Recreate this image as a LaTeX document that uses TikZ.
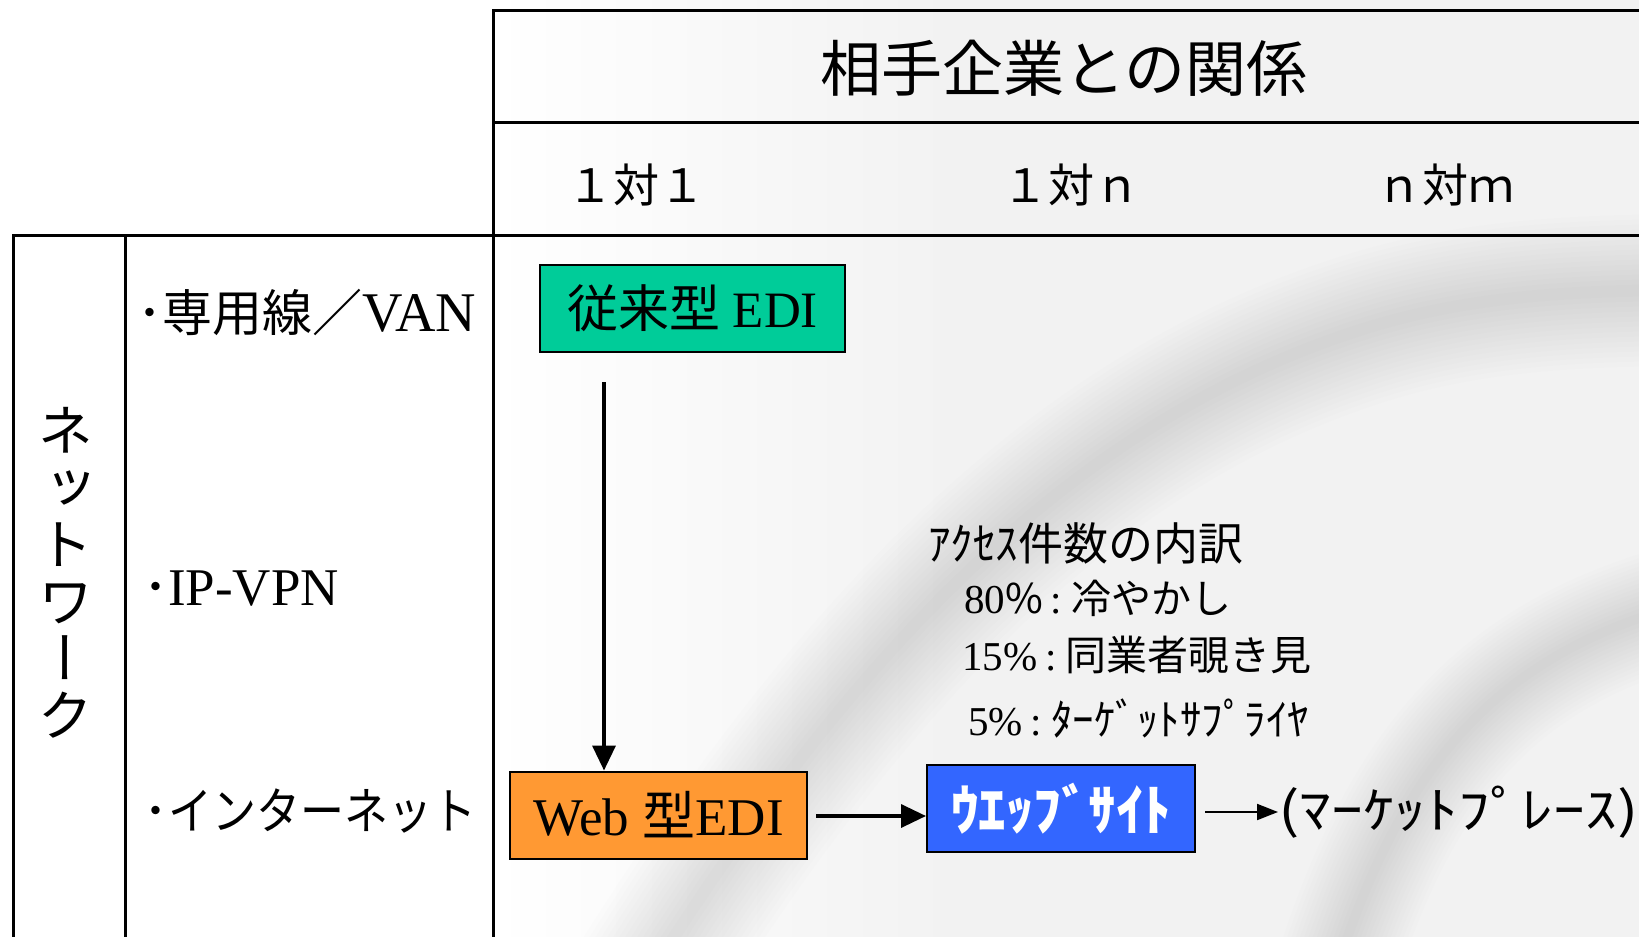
\documentclass[tikz,border=0pt]{standalone}
\usepackage{fontspec}
\usepackage{graphicx}
\setmainfont{Liberation Serif}
\newfontfamily\jp{Noto Sans CJK JP}
\newfontfamily\jpv[RawFeature=+vert]{Noto Sans CJK JP}
\usetikzlibrary{arrows.meta}
\newcommand\myfs[1]{\fontsize{#1}{#1}\selectfont}
\newcommand\mycolon{\hspace{8pt}:\hspace{9pt}}
\definecolor{edigreen}{HTML}{00CC99}
\definecolor{ediorange}{HTML}{FF9933}
\definecolor{ediblue}{HTML}{3366FF}
\definecolor{bgc}{HTML}{F2F2F2}
\tikzset{
  tbl/.style={line width=3pt, line join=miter},
  ebox/.style={draw=black, line width=2pt, inner sep=0pt, minimum height=87pt},
  lbl/.style={inner sep=0pt, anchor=west},
  conn/.style={line width=3.5pt, -{Triangle[length=25pt,width=23pt]}},
  connsm/.style={line width=2pt, -{Triangle[length=21pt,width=16pt]}},
  shadowline/.style={gray, line cap=round, opacity=0.012},
}
\begin{document}
\begin{tikzpicture}[x=1pt,y=-1pt]
\useasboundingbox (0,0) rectangle (1639,937);
% background
\fill[white] (0,0) rectangle (1639,937);
\shade[left color=white,right color=bgc] (493,0) rectangle (950,937);
\fill[bgc] (950,0) rectangle (1639,937);
\begin{scope}
\clip (0,0) rectangle (1639,937);
\foreach \w in {12,22,...,152}{
  \draw[shadowline, line width=\w pt] (640,990) .. controls (860,640) and (1080,420) .. (1360,330) .. controls (1460,298) and (1560,290) .. (1700,290);
  \draw[shadowline, line width=0.8*\w pt, opacity=0.011] (1330,990) .. controls (1400,760) and (1500,650) .. (1700,600);
}
\end{scope}
% table lines
\draw[tbl] (1639,10.5) -- (493.5,10.5) -- (493.5,937);
\draw[tbl] (493.5,122.5) -- (1639,122.5);
\draw[tbl] (13,937) -- (13,235) -- (1639,235);
\draw[tbl] (125,235) -- (125,937);
% header texts
\node[inner sep=0pt] (title) at (1064,68) {\jp\myfs{61}相手企業との関係};
\node[inner sep=0pt] (h1) at (636,185) {\jp\myfs{46}１対１};
\node[inner sep=0pt] (h2) at (1071,185) {\jp\myfs{46}１対ｎ};
\node[inner sep=0pt] (h3) at (1445,185) {\jp\myfs{46}ｎ対ｍ};
% left column
\node[inner sep=0pt, align=center, font=\jpv\fontsize{56}{57}\selectfont] (net) at (65,573) {ネ\\ッ\\ト\\ワ\\ー\\ク};
\node[lbl] (r1) at (137,312) {{\jp\myfs{50}･専用線／}{\myfs{56}VAN}};
\node[lbl] (r2) at (143,589) {{\jp\myfs{50}･}{\myfs{53}IP-VPN}};
\node[lbl] (r3) at (143,811) {{\jp\myfs{50}･}\scalebox{0.88}[1]{\jp\myfs{50}インターネット}};
% boxes
\node[ebox, fill=edigreen, minimum width=305pt] (trad) at (692.5,308.5) {\myfs{51}{\jp 従来型} EDI};
\node[ebox, fill=ediorange, minimum width=297pt] (webedi) at (658.5,815) {\myfs{53}Web {\jp 型}EDI};
\node[ebox, fill=ediblue, minimum width=268pt] (site) at (1061,808.5) {\color{white}\jp\bfseries\myfs{55}ｳｴｯﾌﾞｻｲﾄ};
\node[lbl] (market) at (1278,812) {\scalebox{1.27}[1]{\jp\myfs{50}(ﾏｰｹｯﾄﾌﾟﾚｰｽ)}};
% annotation
\node[lbl] (a0) at (928,543) {\jp\myfs{45}ｱｸｾｽ件数の内訳};
\node[lbl] (a1) at (964,598) {\myfs{41}80{\jp\%}\mycolon{\jp\myfs{40}冷やかし}};
\node[lbl] (a2) at (962,655) {\myfs{41}15\%\mycolon{\jp 同業者覗き見}};
\node[lbl] (a3) at (968,719) {\myfs{41}5\%\mycolon{\jp\myfs{43}ﾀｰｹﾞｯﾄｻﾌﾟﾗｲﾔ}};
% connectors
\draw[conn, shorten <=29pt] (trad.south -| 604,0) -- (webedi.north -| 604,0);
\draw[conn, shorten <=8pt] (webedi.east |- 0,816) -- (site.west |- 0,816);
\draw[connsm, shorten <=9pt] (site.east |- 0,812) -- (market.west);
\end{tikzpicture}
\end{document}
